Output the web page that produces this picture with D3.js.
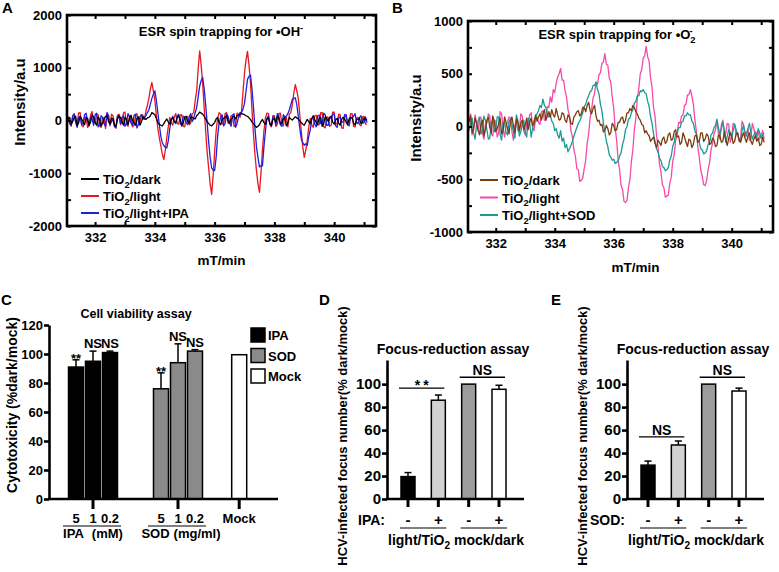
<!DOCTYPE html>
<html>
<head>
<meta charset="utf-8">
<script src="https://cdn.jsdelivr.net/npm/d3@7"></script>
<style>
  body { margin: 0; background: #fff; }
  svg { font-family: "Liberation Sans", Arial, sans-serif; font-weight: bold; }
</style>
</head>
<body>
<svg id="fig" width="779" height="572"></svg>
<script>
// ESR spectra, one value every 0.05 mT starting at 331.1 mT
const fieldStart = 331.1, fieldStep = 0.05;

const ohDark = [
  20, 60, -70, -20, 60, 80, -100, -40, 80, 30,
  -30, -80, 50, 40, -90, -30, 110, 60, -40, -90,
  70, 20, -110, -50, 30, 80, 90, -20, -60, 40,
  40, -100, -100, 30, 80, 60, -20, -90, 60, 20,
  -80, 30, 100, 10, -50, -90, 30, 70, -90, -30,
  70, 40, 20, 50, 60, 90, 150, 130, 110, 40,
  -40, -70, -90, -100, -60, -10, 30, -30, -70, 20,
  50, -20, -40, 60, 80, 20, -100, -40, 60, 80,
  -20, -50, 70, 60, 40, 30, 90, 120, 160, 140,
  120, 80, 30, -20, -60, -90, -100, -70, -40, 30,
  60, -40, -80, 10, 40, 60, 90, -10, -50, 20,
  60, 80, 30, 90, 100, 120, 130, 120, 110, 90,
  80, 50, 20, -30, -60, -100, -130, -110, -80, -20,
  20, -40, -70, 30, 50, -60, -90, 20, 40, -30,
  80, 30, -60, -40, 30, 60, -100, -50, 60, 30,
  10, 40, 70, 50, 30, -10, -40, -70, -90, -30,
  20, -20, -60, 40, 90, 20, -40, -70, 50, 60,
  -110, -60, 70, 40, -20, 60, 80, -30, -70, 10,
  40, -50, -90, 20, 60, 30, -30, -80, 30, 60,
  50, -50, -80, 10, 30, 40, -60, -30, 50, 10,
  20
];
const ohLight = [
  80, -60, -110, 90, 130, -20, -60, 140, 150, -90,
  -120, 70, 60, -130, -90, 110, 170, -50, -40, 120,
  110, -100, -130, 60, 40, -150, 140, 30, -100, 120,
  90, -70, -150, 100, 120, -80, -30, 140, 160, -60,
  -110, 90, 70, -120, -90, 80, 130, -40, -60, 110,
  100, 20, 180, 290, 420, 600, 720, 560, 380, 100,
  -150, -330, -480, -640, -740, -560, -320, -110, 60, -40,
  -90, 70, 130, -60, -70, 100, 110, -110, -120, 60,
  80, -80, -50, 120, 150, 380, 560, 980, 1320, 1050,
  700, 250, -200, -600, -900, -1200, -1400, -1050, -600, -200,
  40, 150, 120, -60, -80, 130, 150, -50, -60, 90,
  90, -110, -100, 140, 120, 60, 180, 550, 900, 1150,
  1310, 1050, 720, 200, -250, -650, -950, -1200, -1360, -1000,
  -560, -200, 50, 140, 130, -80, -120, 90, 90, -110,
  -70, 130, 140, -60, -100, 80, 60, -120, 120, 150,
  300, 520, 680, 560, 420, 100, -200, -500, -700, -560,
  -380, -120, 40, -80, -130, 90, 100, -90, -80, 150,
  150, -120, -140, 70, 60, -110, -90, 160, 160, -70,
  -60, 120, 110, -140, -150, 60, 90, -40, -40, 130,
  130, -110, -120, 50, 60, -80, -100, 70, 80, -70,
  -70
];
const ohLightIPA = [
  40, -50, -90, 80, 120, -40, -130, 60, 70, -80,
  -40, 110, 140, -30, -100, 60, 30, -90, 110, 140,
  -120, -70, 90, 60, -60, -110, 150, 100, -80, -20,
  20, -120, -130, 80, 100, -60, 60, 90, -110, -60,
  130, 80, -50, -90, 90, 120, -140, -70, 70, 110,
  20, 60, 90, 150, 200, 310, 420, 500, 560, 380,
  150, -80, -300, -420, -480, -510, -520, -380, -150, 20,
  80, -30, -60, 90, 120, -50, -100, 80, 60, -40,
  -80, 70, 130, -20, 40, 150, 250, 450, 650, 760,
  820, 600, 300, -50, -400, -700, -900, -940, -950, -700,
  -300, -50, 60, 110, -100, -60, 120, 80, -40, -110,
  100, 130, -130, -60, 70, 150, 150, 220, 330, 550,
  780, 840, 860, 600, 250, -150, -500, -700, -880, -860,
  -860, -500, -200, 40, 90, -60, -110, 70, 60, -90,
  130, 90, -80, -110, 110, 60, 80, 130, 200, 300,
  400, 420, 430, 300, 80, -150, -350, -420, -470, -440,
  -470, -300, -180, 20, 60, -70, -120, 90, 100, -60,
  -60, 140, 110, -90, -90, 50, 40, 120, 120, -100,
  -130, 40, 70, -30, -30, 110, 110, -80, -100, 50,
  50, 80, 130, -40, -60, 60, 90, -50, -40, 70,
  -40
];
const o2Dark = [
  40, 100, -60, -20, 80, 30, -30, -80, 20, 60,
  -90, -30, 60, 90, -10, -60, 100, 50, -50, -20,
  30, 80, -70, -40, 90, 40, -20, -70, 50, 90,
  10, -60, 70, 40, -40, 30, 60, -30, 10, 80,
  -30, 40, 80, 10, 20, 110, 50, 90, 120, 60,
  120, 160, 60, 100, 140, 90, 160, 110, 90, 170,
  110, 60, 70, 130, 120, 60, 40, 110, 90, 30,
  20, 90, 110, 140, 150, 100, 120, 180, 180, 140,
  200, 230, 150, 120, 170, 200, 100, 50, 60, 10,
  20, -50, -40, 10, -20, -80, -60, 30, 10, -40,
  -30, 40, 40, 80, 90, 30, 60, 130, 130, 170,
  150, 200, 180, 140, 120, 80, 60, 20, 10, -60,
  -40, -70, -90, -140, -120, -100, -160, -200, -130, -150,
  -180, -120, -100, -160, -140, -80, -60, -130, -120, -50,
  -30, -100, -90, -170, -150, -60, -100, -150, -190, -120,
  -130, -200, -170, -90, -80, -150, -140, -60, -60, -140,
  -120, -70, -90, -170, -160, -110, -130, -190, -180, -80,
  -90, -150, -140, -50, -130, -180, -110, -60, -90, -160,
  -140, -70, -60, -130, -150, -100, -60, -110, -150, -90,
  -60, -140, -170, -120, -90, -140, -110, -180, -170, -100,
  -150
];
const o2Light = [
  60, 120, -80, -30, 110, 40, -40, 80, 90, -60,
  -120, 20, 30, 120, 100, -70, -90, 60, 50, -100,
  -60, 140, 120, -30, -100, 10, 40, 90, 80, -50,
  -130, 10, 60, -40, -50, 120, 100, -40, -80, 30,
  20, 110, 130, -10, -40, 70, 90, 40, 20, 140,
  150, 60, 60, 190, 180, 280, 230, 350, 320, 410,
  470, 500, 550, 440, 440, 340, 280, 160, 100, -40,
  -100, -220, -280, -400, -410, -520, -510, -490, -400, -320,
  -160, -70, 80, 160, 270, 310, 420, 400, 490, 510,
  600, 610, 690, 590, 580, 460, 420, 280, 170, -20,
  -130, -320, -410, -560, -600, -710, -720, -700, -580, -500,
  -330, -220, -30, 80, 270, 360, 500, 540, 650, 670,
  760, 660, 620, 460, 370, 180, 100, -80, -180, -350,
  -430, -550, -580, -670, -660, -650, -540, -480, -330, -270,
  -130, -80, 40, 30, 100, 110, 200, 210, 300, 300,
  350, 290, 210, 70, -40, -190, -290, -410, -470, -550,
  -560, -510, -410, -340, -220, -160, -70, -30, 50, -60,
  -120, 20, 60, -90, -60, 30, 20, -150, -100, 30,
  20, -80, -60, -140, -120, 50, 20, -100, -70, -20,
  -130, -100, 30, -20, -90, -60, -40, -120, -80, -40,
  -120
];
const o2LightSOD = [
  -40, 30, 80, -60, -120, 20, 50, 90, -70, -40,
  100, 60, -30, -120, -110, 40, 60, -50, -20, 90,
  90, -80, -130, 30, 40, -60, -80, 50, 70, 20,
  -50, -110, 110, 60, -90, -50, 30, 60, -60, -100,
  80, 40, -100, -20, 60, 90, 120, 150, 200, 180,
  260, 200, 180, 120, 90, 110, 50, 30, -40, -20,
  -80, -110, -40, -140, -110, -200, -170, -240, -210, -180,
  -140, -90, -50, -10, 30, 50, 90, 130, 190, 210,
  260, 290, 330, 340, 390, 390, 420, 350, 310, 210,
  150, 30, -50, -140, -190, -270, -290, -320, -310, -350,
  -340, -330, -280, -250, -170, -120, -30, 0, 70, 80,
  130, 160, 220, 240, 290, 290, 340, 330, 350, 320,
  310, 240, 190, 90, 30, -70, -140, -210, -240, -300,
  -320, -380, -390, -420, -410, -390, -320, -280, -190, -150,
  -70, -60, -10, -10, 40, 50, 100, 100, 130, 110,
  110, 50, 30, -40, -70, -130, -150, -210, -220, -260,
  -250, -230, -170, -150, -80, -60, -10, 10, 70, -10,
  -80, -20, 40, -30, -150, -90, -30, -60, -100, -40,
  20, -30, -70, -120, -140, -40, 10, -50, -90, -20,
  30, -60, -120, -80, -50, -110, -20, -60, -110, -80,
  -60
];
const fieldTicks = [332, 334, 336, 338, 340];
const ohTicks = [-2000, -1000, 0, 1000, 2000];
const o2Ticks = [-1000, -500, 0, 500, 1000];

// C: cell viability
const doseLabels = ["5", "1", "0.2"];
const ipaViability = [91, 95, 101];
const ipaError = [5, 7, 1];
const ipaSig = ["**", "NS", "NS"];
const sodViability = [76, 94, 102];
const sodError = [11, 13, 1];
const sodSig = ["**", "NS", "NS"];
const mockViability = 99.5;
const viabilityTicks = [0, 20, 40, 60, 80, 100, 120];

// D / E: focus reduction
const focusCats = ["TiO2-", "TiO2+", "dark-", "dark+"];
const focusSigns = ["-", "+", "-", "+"];
const ipaFocus = [19.5, 86, 100, 95.5];
const ipaFocusErr = [3.5, 4.5, 0, 3.5];
const sodFocus = [29.5, 47, 100, 94];
const sodFocusErr = [3.5, 3.5, 0, 2.5];
const focusTicks = [0, 20, 40, 60, 80, 100];

const svg = d3.select("#fig");
const FONT = '"Liberation Sans", Arial, sans-serif';

function rich(text, parts, size) {
  // parts: [string, "sub" | "sup" | "", dx]
  let shift = 0;
  parts.forEach(([t, kind, dx]) => {
    const ts = text.append("tspan").text(t);
    let target = 0;
    if (kind === "sub") { target = size * 0.3; ts.attr("font-size", size * 0.72); }
    if (kind === "sup") { target = -size * 0.42; ts.attr("font-size", size * 0.72); }
    if (target !== shift) ts.attr("dy", target - shift);
    if (dx) ts.attr("dx", dx);
    shift = target;
  });
}

function styleAxis(a, size) {
  a.attr("font-family", FONT).attr("font-size", size).attr("font-weight", "bold");
  a.selectAll("text").attr("fill", "#000");
}

function esrPanel(p) {
  const x = d3.scaleLinear().domain([331.06, 341.4]).range([p.left, p.right]);
  const y = d3.scaleLinear().domain(p.yDomain).range([p.bottom, p.top]);
  const g = svg.append("g");
  const line = d3.line()
    .x((d, i) => x(fieldStart + i * fieldStep))
    .y(d => y(d));

  // drawing order: light, light+scavenger, dark on top
  p.drawOrder.forEach(k => {
    const s = p.series[k];
    g.append("path").datum(s.values)
      .attr("d", line)
      .attr("fill", "none")
      .attr("stroke", s.color)
      .attr("stroke-width", 1.3)
      .attr("stroke-linejoin", "round");
  });

  // small inward ticks on all sides
  const minorX = d3.range(332, 341.5, 1);
  const minorY = d3.range(p.yDomain[0], p.yDomain[1] + 1, p.yMinor);
  const tg = g.append("g");
  tg.append("g").attr("transform", "translate(0," + p.bottom + ")")
    .call(d3.axisBottom(x).tickValues(minorX).tickSize(-4).tickFormat(""));
  tg.append("g").attr("transform", "translate(0," + p.top + ")")
    .call(d3.axisTop(x).tickValues(minorX).tickSize(-4).tickFormat(""));
  tg.append("g").attr("transform", "translate(" + p.left + ",0)")
    .call(d3.axisLeft(y).tickValues(minorY).tickSize(-4).tickFormat(""));
  tg.append("g").attr("transform", "translate(" + p.right + ",0)")
    .call(d3.axisRight(y).tickValues(minorY).tickSize(-4).tickFormat(""));
  tg.selectAll(".domain").remove();
  tg.selectAll(".tick line").attr("stroke-width", 2);

  const xa = g.append("g").attr("transform", "translate(0," + p.bottom + ")")
    .call(d3.axisBottom(x).tickValues(fieldTicks).tickSize(0).tickPadding(7).tickFormat(d => String(d)));
  xa.select(".domain").remove();
  styleAxis(xa, 13);

  const ya = g.append("g").attr("transform", "translate(" + p.left + ",0)")
    .call(d3.axisLeft(y).tickValues(p.yTicks).tickSize(0).tickPadding(5).tickFormat(d => String(d)));
  ya.select(".domain").remove();
  styleAxis(ya, 13);

  g.append("rect")
    .attr("x", p.left).attr("y", p.top)
    .attr("width", p.right - p.left).attr("height", p.bottom - p.top)
    .attr("fill", "none").attr("stroke", "#000").attr("stroke-width", 2.6);

  // title
  const t = g.append("text").attr("x", p.titleX).attr("y", p.titleY)
    .attr("text-anchor", "middle").attr("font-size", 13);
  rich(t, p.title, 13);

  // axis titles
  g.append("text").attr("x", (p.left + p.right) / 2 + p.xLabelDx).attr("y", p.xLabelY)
    .attr("text-anchor", "middle").attr("font-size", 13.5).text("mT/min");
  g.append("text")
    .attr("transform", "translate(" + p.yLabelX + "," + p.yLabelY + ") rotate(-90)")
    .attr("text-anchor", "middle").attr("dy", "0.35em").attr("font-size", 15)
    .text("Intensity/a.u");

  // legend (dark, light, light+scavenger)
  p.series.forEach((s, i) => {
    const ly = p.legend.y + i * p.legend.dy;
    g.append("line").attr("x1", p.legend.x).attr("x2", p.legend.x + 18)
      .attr("y1", ly).attr("y2", ly).attr("stroke", s.color).attr("stroke-width", 2);
    const lt = g.append("text").attr("x", p.legend.x + 22).attr("y", ly + 5).attr("font-size", 13);
    rich(lt, [["TiO", ""], ["2", "sub"], [s.label, ""]], 13);
  });

  svg.append("text").attr("x", p.letterX).attr("y", 13).attr("font-size", 15).text(p.letter);
}

esrPanel({
  letter: "A", letterX: 2,
  left: 67, right: 376, top: 15, bottom: 226,
  yDomain: [-2000, 2000], yTicks: ohTicks, yMinor: 500,
  series: [
    { values: ohDark, color: "#000", label: "/dark" },
    { values: ohLight, color: "#e8161d", label: "/light" },
    { values: ohLightIPA, color: "#1f1fe0", label: "/light+IPA" }
  ],
  drawOrder: [1, 2, 0],
  title: [["ESR spin trapping for  \u2022OH", ""], ["-", "sup"]],
  titleX: 221, titleY: 36,
  xLabelDx: 0, xLabelY: 265,
  yLabelX: 20, yLabelY: 102,
  legend: { x: 81, y: 179, dy: 17 }
});

esrPanel({
  letter: "B", letterX: 392,
  left: 468, right: 773, top: 21, bottom: 232,
  yDomain: [-1000, 1000], yTicks: o2Ticks, yMinor: 250,
  series: [
    { values: o2Dark, color: "#7b3b0c", label: "/dark" },
    { values: o2Light, color: "#f54aa8", label: "/light" },
    { values: o2LightSOD, color: "#1b9a96", label: "/light+SOD" }
  ],
  drawOrder: [1, 2, 0],
  title: [["ESR spin trapping for  \u2022O", ""], ["2", "sub"], ["-", "sup", -6]],
  titleX: 617, titleY: 39,
  xLabelDx: 15, xLabelY: 272,
  yLabelX: 416, yLabelY: 118,
  legend: { x: 480, y: 180, dy: 17.5 }
});

// ---------- C ----------
(function () {
  const x = d3.scaleLinear().domain([0, 1]).range([76, 93]);
  const y = d3.scaleLinear().domain([0, 120]).range([499, 325]);
  const g = svg.append("g");
  const bw = 15;
  const groups = [
    { name: "IPA", unit: "(mM)", start: 0, values: ipaViability, err: ipaError, sig: ipaSig, fill: "#000" },
    { name: "SOD", unit: "(mg/ml)", start: 5, values: sodViability, err: sodError, sig: sodSig, fill: "#8a8a8a" }
  ];

  g.append("text").attr("x", 136).attr("y", 318).attr("text-anchor", "middle")
    .attr("font-size", 12.5).text("Cell viability assay");

  groups.forEach(gr => {
    gr.values.forEach((v, i) => {
      const cx = x(gr.start + i);
      g.append("rect").attr("x", cx - bw / 2).attr("y", y(v))
        .attr("width", bw).attr("height", y(0) - y(v))
        .attr("fill", gr.fill).attr("stroke", "#000").attr("stroke-width", 1.5);
      const top = y(v + gr.err[i]);
      g.append("line").attr("x1", cx).attr("x2", cx).attr("y1", y(v)).attr("y2", top)
        .attr("stroke", "#000").attr("stroke-width", 1.5);
      g.append("line").attr("x1", cx - 3.5).attr("x2", cx + 3.5).attr("y1", top).attr("y2", top)
        .attr("stroke", "#000").attr("stroke-width", 1.5);
      g.append("text").attr("x", cx).attr("y", top + (gr.sig[i] === "**" ? 3 : -3))
        .attr("text-anchor", "middle").attr("font-size", 13).text(gr.sig[i]);
      g.append("text").attr("x", cx).attr("y", 523).attr("text-anchor", "middle")
        .attr("font-size", 13).text(doseLabels[i]);
    });
    const c = x(gr.start + 1);
    g.append("line").attr("x1", c).attr("x2", c).attr("y1", 499).attr("y2", 509)
      .attr("stroke", "#000").attr("stroke-width", 3);
    g.append("line").attr("x1", x(gr.start) - 13).attr("x2", x(gr.start + 2) + 11)
      .attr("y1", 526).attr("y2", 526).attr("stroke", "#000").attr("stroke-width", 1.2);
    const lt = g.append("text").attr("x", c + (gr.name === "SOD" ? 3 : 0)).attr("y", 538)
      .attr("text-anchor", "middle").attr("font-size", 13);
    lt.append("tspan").text(gr.name);
    lt.append("tspan").attr("dx", gr.name === "IPA" ? 8 : 4).text(gr.unit);
  });

  const mx = x(9.6);
  g.append("rect").attr("x", mx - bw / 2).attr("y", y(mockViability))
    .attr("width", bw).attr("height", y(0) - y(mockViability))
    .attr("fill", "#fff").attr("stroke", "#000").attr("stroke-width", 1.5);
  g.append("line").attr("x1", mx).attr("x2", mx).attr("y1", 499).attr("y2", 509)
    .attr("stroke", "#000").attr("stroke-width", 3);
  g.append("text").attr("x", mx).attr("y", 523).attr("text-anchor", "middle")
    .attr("font-size", 13).text("Mock");

  const ya = g.append("g").attr("transform", "translate(49,0)")
    .call(d3.axisLeft(y).tickValues(viabilityTicks).tickSize(5).tickSizeOuter(0).tickPadding(1));
  styleAxis(ya, 13);
  ya.selectAll("line, path").attr("stroke-width", 2.6);
  g.append("line").attr("x1", 48).attr("x2", 278).attr("y1", 499).attr("y2", 499)
    .attr("stroke", "#000").attr("stroke-width", 2.6);

  g.append("text").attr("transform", "translate(12,405) rotate(-90)")
    .attr("text-anchor", "middle").attr("dy", "0.35em").attr("font-size", 14)
    .text("Cytotoxicity (%dark/mock)");

  [["IPA", "#000"], ["SOD", "#8a8a8a"], ["Mock", "#fff"]].forEach(([n, f], i) => {
    const cy = 335 + i * 20.5;
    g.append("rect").attr("x", 251).attr("y", cy - 7).attr("width", 14).attr("height", 14)
      .attr("fill", f).attr("stroke", "#000").attr("stroke-width", 1.5);
    g.append("text").attr("x", 268).attr("y", cy + 5).attr("font-size", 13).text(n);
  });

  svg.append("text").attr("x", 1).attr("y", 305).attr("font-size", 15).text("C");
})();

// ---------- D / E ----------
function focusPanel(p) {
  const off = p.offset;
  const x = d3.scalePoint().domain(focusCats).range([408 + off, 499 + off]);
  const y = d3.scaleLinear().domain([0, 121]).range([499, 360]);
  const g = svg.append("g");
  const bw = 14;
  const fills = ["#000", "#d2d2d2", "#9c9c9c", "#fff"];

  g.append("text").attr("x", 453 + off).attr("y", 354).attr("text-anchor", "middle")
    .attr("font-size", 14).text("Focus-reduction assay");

  focusCats.forEach((c, i) => {
    const cx = x(c), v = p.values[i], e = p.errors[i];
    g.append("rect").attr("x", cx - bw / 2).attr("y", y(v))
      .attr("width", bw).attr("height", y(0) - y(v))
      .attr("fill", fills[i]).attr("stroke", "#000").attr("stroke-width", 1.5);
    if (e > 0) {
      g.append("line").attr("x1", cx).attr("x2", cx).attr("y1", y(v)).attr("y2", y(v + e))
        .attr("stroke", "#000").attr("stroke-width", 1.5);
      g.append("line").attr("x1", cx - 3.5).attr("x2", cx + 3.5).attr("y1", y(v + e)).attr("y2", y(v + e))
        .attr("stroke", "#000").attr("stroke-width", 1.5);
    }
    g.append("line").attr("x1", cx).attr("x2", cx).attr("y1", 499).attr("y2", 507)
      .attr("stroke", "#000").attr("stroke-width", 3);
    g.append("text").attr("x", cx).attr("y", 525).attr("text-anchor", "middle")
      .attr("font-size", 15).text(focusSigns[i]);
  });

  p.sig.forEach(s => {
    const x1 = x(focusCats[s.from]) - 9, x2 = x(focusCats[s.to]) + 6;
    const star = s.label === "**";
    g.append("line").attr("x1", x1).attr("x2", x2).attr("y1", y(s.level)).attr("y2", y(s.level))
      .attr("stroke", "#000").attr("stroke-width", 1.3);
    g.append("text").attr("x", (x1 + x2) / 2 + (star ? 1.5 : 0)).attr("y", y(s.level) + (star ? 2 : -2))
      .attr("text-anchor", "middle").attr("font-size", 14)
      .attr("letter-spacing", star ? 3 : 0).text(s.label);
  });

  [[0, 1], [2, 3]].forEach(([a, b]) => {
    g.append("line").attr("x1", x(focusCats[a]) - 8).attr("x2", x(focusCats[b]) + 8)
      .attr("y1", 528).attr("y2", 528).attr("stroke", "#000").attr("stroke-width", 1.2);
  });

  g.append("text").attr("x", 385 + off).attr("y", 525).attr("text-anchor", "end")
    .attr("font-size", 14).text(p.treatment);
  const lt = g.append("text").attr("x", 388 + off).attr("y", 545).attr("font-size", 14);
  rich(lt, [["light/TiO", ""], ["2", "sub"], [" mock/dark", ""]], 14);

  const ya = g.append("g").attr("transform", "translate(" + (387 + off) + ",0)")
    .call(d3.axisLeft(y).tickValues(focusTicks).tickSize(5).tickSizeOuter(0).tickPadding(1));
  styleAxis(ya, 15);
  ya.selectAll("line, path").attr("stroke-width", 2.6);
  g.append("line").attr("x1", 386 + off).attr("x2", 524 + off).attr("y1", 499).attr("y2", 499)
    .attr("stroke", "#000").attr("stroke-width", 2.6);

  g.append("text").attr("transform", "translate(" + (342 + off) + ",436) rotate(-90)")
    .attr("text-anchor", "middle").attr("dy", "0.35em").attr("font-size", 13)
    .text("HCV-infected focus number(% dark/mock)");

  svg.append("text").attr("x", p.letterX).attr("y", 305).attr("font-size", 15).text(p.letter);
}

focusPanel({
  offset: 0, letter: "D", letterX: 319, treatment: "IPA:",
  values: ipaFocus, errors: ipaFocusErr,
  sig: [{ from: 0, to: 1, level: 96.5, label: "**" }, { from: 2, to: 3, level: 106, label: "NS" }]
});
focusPanel({
  offset: 240, letter: "E", letterX: 551, treatment: "SOD:",
  values: sodFocus, errors: sodFocusErr,
  sig: [{ from: 0, to: 1, level: 54, label: "NS" }, { from: 2, to: 3, level: 106, label: "NS" }]
});
</script>
</body>
</html>
